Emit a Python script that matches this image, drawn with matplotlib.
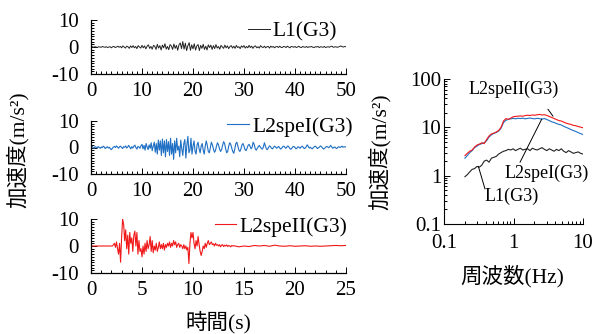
import numpy as np
import matplotlib
matplotlib.use("Agg")
import matplotlib.pyplot as plt
from matplotlib.ticker import MultipleLocator, LogLocator, NullFormatter

plt.rcParams['font.family'] = ['Liberation Serif', 'Noto Sans CJK JP']
plt.rcParams['font.size'] = 15
plt.rcParams['axes.unicode_minus'] = False

# L1(G3), 0.25 s step, 0-50 s
l1_step = 0.25
l1_acc = [
    0, 0.1, -0.1, 0.1, 0, -0.2, 0.1, 0,
    -0.1, 0.2, 0, -0.1, 0.1, -0.2, 0, 0.1,
    -0.3, 0.1, 0.2, -0.2, 0, 0.3, -0.1, 0.2,
    -0.3, 0.4, 0, -0.4, 0.3, 0.1, -0.5, 0.4,
    -0.2, 0.5, -0.3, 0.2, -0.6, 0.5, 0, -0.4,
    0.6, -0.3, 0.4, -0.7, 0.3, 0.8, -0.5, 0.2,
    -0.8, 0.6, 0.3, -0.9, 1, -0.4, 0.5, -1.1,
    0.7, -0.3, 1.2, -0.8, 0.2, -1, 0.9, 0.4,
    -0.9, 1.1, -0.5, 0.6, -1.2, 0.8, 1.5, -0.6,
    2, -0.8, 1.4, -1.3, 0.5, 1.6, -1.2, 0.8,
    -0.7, 1.2, -1.1, 0.4, 0.9, -1.3, 0.6, -0.5,
    1, -0.9, 0.3, -1.1, 0.8, -0.2, 0.7, -0.9,
    0.5, -0.6, 0.9, -0.4, 0.2, -0.8, 0.6, 0,
    -0.5, 0.7, -0.3, 0.4, -0.6, 0.2, 0.5, -0.4,
    0.3, -0.5, 0.6, -0.2, 0.1, -0.6, 0.4, -0.1,
    0.5, -0.4, 0.2, -0.3, 0.6, -0.2, 0.3, -0.5,
    0.2, 0.4, -0.3, 0.1, -0.4, 0.5, 0, -0.2,
    0.3, -0.3, 0.1, 0.2, -0.4, 0.3, -0.1, 0.2,
    -0.3, 0.1, 0.2, -0.2, 0.3, -0.1, -0.2, 0.2,
    0.1, -0.2, 0.3, 0, -0.3, 0.2, 0.1, -0.1,
    0.2, -0.2, 0, 0.3, -0.1, -0.2, 0.2, 0,
    -0.1, 0.2, -0.2, 0.1, 0, 0.2, -0.1, -0.2,
    0.1, 0, 0.2, -0.2, 0.1, 0, -0.1, 0.2,
    -0.2, 0, 0.1, -0.1, 0.2, 0.3, -0.1, 0,
    0.1, -0.1, 0, 0.2, 0.4, 0.1, 0, 0.2,
    0.1,
]

# L2speI(G3), 0.2 s step, 0-50 s
l2a_step = 0.2
l2a_acc = [
    0.2, 0.5, 0, -0.3, 0.3, 0.1, -0.2, 0.4, 0, -0.3,
    0.2, -0.1, 0.5, 0.2, -0.4, 0, 0.3, -0.2, 0.1, -0.5,
    -0.8, -0.3, 0.2, 0.4, 0, 0.6, 0.2, -0.3, 0.3, 0.5,
    0, -0.4, 0.3, 0.1, 0.6, -0.2, 0.2, 0.8, 0.1, -0.5,
    0.3, -0.2, 0.5, 0.9, 0, -0.6, 0.4, 0.2, -0.3, 0.6,
    1.2, -0.5, 0.8, -1, 1.5, 0.2, -0.8, 1, -0.3, 1.8,
    -1.2, 0.5, 2, -1.8, 1.5, -2.5, 2.8, -1, 2.5, -3,
    3.2, -2, 2.5, -3.5, 3, -1.5, 2.2, -3, 3.5, -2.5,
    1.5, -4.5, 2.5, -2, 3.5, -1, 0.5, -3.5, 2.8, -0.5,
    -3, 1.5, 3, -4, 1, 4.2, -2, -1, 3.5, -2.5,
    0.5, 2.5, -1.5, -2.5, 1, 2, -0.5, -2, 0.5, 1.5,
    -1, -2.5, 0.5, 2.5, 0.8, -1.5, -2, 0, 2, 1,
    -0.5, -1.8, -1.2, 0.5, 1.8, 1, -0.5, -1.5, -0.8, 0.8,
    2.2, 1.5, -0.5, -2, -1.5, 0.5, 1.8, 1.2, -0.3, -1.5,
    -2.2, -0.5, 1.5, 2, 0.5, -1, -1.5, -0.5, 1, 1.5,
    0.5, -0.8, -1.2, -0.3, 0.8, 1.2, 0.3, -0.5, 0.2, 2,
    1.2, -0.5, -1, -0.3, 0.3, 0.8, 0.2, -0.4, -0.6, 0.2,
    1.8, 0.5, -0.6, -0.8, 0, 0.6, 0.3, -0.3, -0.5, 0.1,
    0.5, 0.2, -0.3, 0.1, 0.4, -0.2, -0.6, -0.2, 0.3, 0.5,
    0.1, -0.3, 0.2, 0.6, 0.2, -0.4, -0.7, -0.2, 0.3, 0.4,
    0, -0.5, -0.2, 0.3, 0.1, -0.3, 0.2, 0.5, 0.1, -0.4,
    -0.2, 0.3, 1, 0.4, -0.2, 0.1, -0.3, -0.5, 0, 0.3,
    0.5, 0.1, -0.4, -0.1, 0.2, 0.6, 0.3, -0.2, -0.6, -0.3,
    0.1, 0.4, 0.2, -0.1, 0.3, 0.8, 0.2, -0.3, 0, 0.2,
    -0.2, -0.4, 0.1, 0.3, 0, 0.2, 0.5, 0.1, 0.3, 0.2,
    0.3,
]

# L2speII(G3): 0.1 s step for 0-13.9 s, then 0.5 s step for 14-25 s
l2b_step_a = 0.1
l2b_acc_a = [
    0, 0, 0, 0, 0, 0, 0, 0, 0, 0,
    0, 0, 0, 0, 0, 0, 0, 0, 0, 0,
    0, 0, 0.5, 1, -0.5, 1.5, -1, -3, 1, -6,
    3, 10, 8, 2, 6, -1, 4, -3, 5, 1,
    3, -2, 4, 5.5, 0, 5, -3, 2, -2, -1,
    -4, 0, -3, 1, -2, 2, -1, 0.5, 3.5, -2,
    2, -2.5, 0, -1.5, 1, -2, -0.5, 1.5, -1, 0.5,
    -1, 1, -1.5, 0.5, -0.5, 1, 0, 1.5, -0.5, 1,
    0, 2, 0.5, 1.5, -0.5, 0.5, 1, -0.5, 0.5, 0,
    -1, 0.5, -1, 0, -1.5, -0.5, -6.5, 1, 5, 3,
    5, 1, -1, 2, 0, 3.5, 0.5, -2, -3.5, -2,
    0, -1, 1, -0.5, 1, 2, 0.5, 1, 1.5, 0.5,
    0.8, 0, 1, 0.3, 0.5, 0, 0.5, -0.3, 0.3, 0.5,
    -0.2, 0.3, 0, 0.4, -0.2, 0.2, 0, -0.3, 0.2, 0,
]
l2b_start_b = 14.0
l2b_step_b = 0.5
l2b_acc_b = [
    0.1, -0.3, 0, -0.2, 0.2, 0, 0.2, -0.1, 0.3, 0, -0.1, 0.1,
    -0.1, 0, 0.1, -0.1, 0, -0.1, 0, 0.1, 0.2, 0.1, 0.2,
]

# Fourier spectra, frequencies 0.2-10 Hz on a log grid
spec_n = 50
spec_red = [
    2.6, 2.9, 3.2, 3.4, 3.9, 4.3, 4.5, 4.8, 4.6, 5.6,
    6.6, 7.3, 7.6, 8.0, 8.6, 10.0, 13.5, 15.2, 14.6, 15.5,
    16.5, 16.8, 17.0, 17.2, 17.0, 17.5, 17.8, 17.6, 18.0, 17.8,
    18.2, 18.5, 18.0, 18.3, 17.6, 16.8, 16.0, 15.2, 14.5, 13.8,
    13.5, 12.8, 12.2, 11.8, 11.5, 11.0, 10.8, 10.4, 10.1, 9.8,
]
spec_blue = [
    2.3, 2.6, 3.0, 3.3, 3.8, 4.1, 4.4, 4.6, 4.8, 5.3,
    6.3, 7.0, 7.5, 7.8, 8.4, 9.6, 12.5, 14.0, 14.6, 15.0,
    15.3, 15.0, 15.4, 15.2, 15.5, 15.0, 15.3, 15.6, 15.2, 15.0,
    15.4, 15.1, 14.8, 15.2, 14.5, 13.8, 13.0, 12.6, 12.0, 11.5,
    11.2, 10.5, 10.0, 9.5, 9.0, 8.6, 8.2, 7.8, 7.4, 7.1,
]
spec_black = [
    0.95, 1.05, 1.2, 1.35, 1.4, 1.55, 1.5, 1.65, 2.0, 2.1,
    1.9, 2.3, 2.4, 2.5, 2.8, 3.0, 3.2, 3.3, 3.5, 3.4,
    3.6, 3.3, 3.5, 3.7, 3.4, 3.5, 3.6, 3.3, 3.7, 3.5,
    3.4, 3.6, 3.8, 3.5, 3.3, 3.6, 3.4, 3.2, 3.5, 3.3,
    3.6, 3.2, 3.0, 3.3, 3.1, 2.9, 3.0, 3.1, 2.9, 2.8,
]

c_black = '#222222'
c_blue = '#1f6fc4'
c_red = '#f01818'

W, H = 595, 334
fig = plt.figure(figsize=(W / 100, H / 100), dpi=100)


def box(x0, y0, x1, y1):
    return [x0 / W, 1 - y1 / H, (x1 - x0) / W, (y1 - y0) / H]


def style_time(ax, xmax, major, minor):
    ax.set_xlim(0, xmax)
    ax.set_ylim(-10, 10)
    ax.set_yticks([-10, 0, 10])
    ax.xaxis.set_major_locator(MultipleLocator(major))
    ax.xaxis.set_minor_locator(MultipleLocator(minor))
    ax.yaxis.set_minor_locator(MultipleLocator(1))
    for s in ('top', 'right'):
        ax.spines[s].set_visible(False)
    for s in ('left', 'bottom'):
        ax.spines[s].set_linewidth(0.9)
    ax.tick_params(which='both', direction='in', width=0.7, labelsize=15)
    ax.tick_params(axis='y', pad=9)
    ax.tick_params(axis='x', pad=5.5)
    ax.tick_params(which='major', length=4)
    ax.tick_params(which='minor', length=2.5)


def legend(ax, label, anchor):
    ax.legend([ax.lines[0]], [label], loc='upper right', frameon=False,
              handlelength=1.0, handletextpad=0.15, borderaxespad=0,
              bbox_to_anchor=anchor, fontsize=15.5)


ax1 = fig.add_axes(box(91, 20, 346, 74))
t1 = np.arange(len(l1_acc)) * l1_step
ax1.plot(t1, l1_acc, color=c_black, lw=0.7)
style_time(ax1, 50, 10, 1)
legend(ax1, 'L1(G3)', (1.0, 1.13))

ax2 = fig.add_axes(box(91, 121, 346, 174))
t2 = np.arange(len(l2a_acc)) * l2a_step
ax2.plot(t2, l2a_acc, color=c_blue, lw=0.8)
style_time(ax2, 50, 10, 1)
legend(ax2, 'L2speI(G3)', (1.06, 1.24))

ax3 = fig.add_axes(box(91, 219, 346, 273))
t3 = np.concatenate([np.arange(len(l2b_acc_a)) * l2b_step_a,
                     l2b_start_b + np.arange(len(l2b_acc_b)) * l2b_step_b])
ax3.plot(t3, l2b_acc_a + l2b_acc_b, color=c_red, lw=0.8)
style_time(ax3, 25, 5, 1)
legend(ax3, 'L2speII(G3)', (1.04, 1.2))

fig.text(218 / W, 1 - 322 / H, '時間(s)', ha='center', va='center', fontsize=15.5)
fig.text(18 / W, 1 - 150 / H, '加速度(m/s²)', rotation=90,
         ha='center', va='center', fontsize=15.5)

# spectrum
ax4 = fig.add_axes(box(444, 79, 583, 224))
freq = np.logspace(np.log10(0.2), 1, spec_n)
ax4.plot(freq, spec_black, color=c_black, lw=0.8)
ax4.plot(freq, spec_blue, color=c_blue, lw=0.8)
ax4.plot(freq, spec_red, color=c_red, lw=0.8)
ax4.set_xscale('log')
ax4.set_yscale('log')
ax4.set_xlim(0.1, 10)
ax4.set_ylim(0.1, 100)
ax4.set_xticks([0.1, 1, 10])
ax4.set_xticklabels(['0.1', '1', '10'])
ax4.set_yticks([0.1, 1, 10, 100])
ax4.set_yticklabels(['0.1', '1', '10', '100'])
ax4.xaxis.set_minor_locator(LogLocator(base=10, subs=np.arange(2, 10)))
ax4.yaxis.set_minor_locator(LogLocator(base=10, subs=np.arange(2, 10)))
ax4.xaxis.set_minor_formatter(NullFormatter())
ax4.yaxis.set_minor_formatter(NullFormatter())
for s in ('top', 'right'):
    ax4.spines[s].set_visible(False)
ax4.tick_params(which='both', direction='in', width=0.7, labelsize=15)
ax4.tick_params(axis='y', pad=2)
ax4.tick_params(axis='x', pad=7)
ax4.tick_params(which='major', length=4)
ax4.tick_params(which='minor', length=2.5)
fig.text(512 / W, 1 - 276 / H, '周波数(Hz)', ha='center', va='center', fontsize=15.5)
fig.text(380 / W, 1 - 152 / H, '加速度(m/s²)', rotation=90,
         ha='center', va='center', fontsize=15.5)

# curve labels with leader lines
lead = dict(arrowstyle='-', color='black', lw=0.7, shrinkA=0, shrinkB=0)
ax4.text(1.02, 61, 'L2speII(G3)', fontsize=13, ha='center', va='center')
ax4.annotate('', xy=(3.7, 17.0), xytext=(3.13, 23.7), arrowprops=lead)
ax4.text(3.03, 1.14, 'L2speI(G3)', fontsize=13, ha='center', va='center')
ax4.annotate('', xy=(2.55, 14.8), xytext=(1.24, 1.89), arrowprops=lead)
ax4.text(0.95, 0.38, 'L1(G3)', fontsize=13, ha='center', va='center')
ax4.annotate('', xy=(0.312, 1.56), xytext=(0.389, 0.53), arrowprops=lead)

fig.savefig('out.png', dpi=100)
